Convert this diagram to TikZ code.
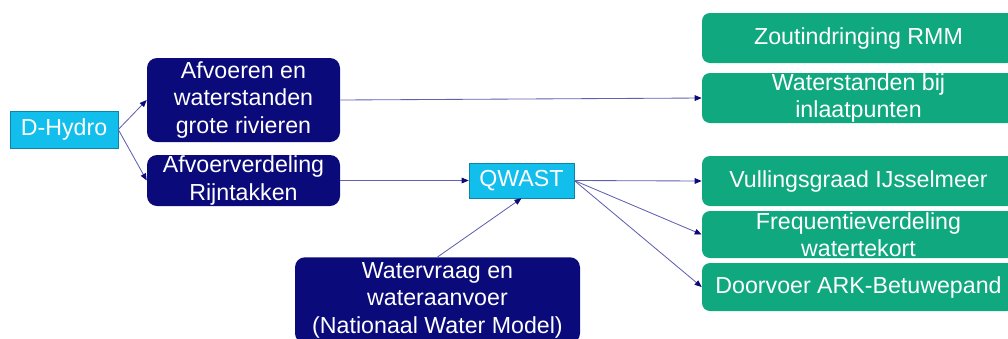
\documentclass[tikz,border=0pt]{standalone}
\usepackage{fontspec}
\setmainfont{Liberation Sans}
\usetikzlibrary{arrows.meta}

\definecolor{navybox}{RGB}{10,10,122}
\definecolor{cyanbox}{RGB}{18,190,236}
\definecolor{greenbox}{RGB}{16,168,126}
\definecolor{linkline}{RGB}{96,96,176}

\tikzset{
    base/.style = {inner sep = 0pt, align = center, text = white,
        font = \fontsize{16.5}{19.6}\selectfont},
    model/.style = {base, rectangle, fill = navybox, rounded corners = .25cm},
    tool/.style = {base, rectangle, fill = cyanbox, draw = cyanbox!70!black, line width = .4pt},
    result/.style = {base, rectangle, fill = greenbox, rounded corners = .2cm,
        minimum width = 7.825cm},
    link/.style = {draw = linkline, line width = .6pt,
        -{Triangle[length = 5pt, width = 4pt, color = navybox]}}
}

\begin{document}
\begin{tikzpicture}
            \useasboundingbox (0,0) rectangle (25.2,-8.45);

            % Draw the sources:
            \node [tool, minimum width = 2.7cm, minimum height = .925cm] (DHydro) at (1.6,-3.2375) {D-Hydro};
            \node [model, minimum width = 4.825cm, minimum height = 2.1cm] (Afvoeren) at (6.0875,-2.5)
                {Afvoeren en\\waterstanden\\grote rivieren};
            \node [model, minimum width = 4.825cm, minimum height = 1.275cm] (Verdeling) at (6.0875,-4.5125)
                {Afvoerverdeling\\Rijntakken};
            \node [tool, minimum width = 2.625cm, minimum height = .875cm] (QWAST) at (13.0375,-4.5125) {QWAST};
            \node [model, anchor = north, minimum width = 7.125cm, minimum height = 2.15cm] (Watervraag) at (10.9375,-6.425)
                {Watervraag en\\wateraanvoer\\(Nationaal Water Model)};

            % Draw the results:
            \node [result, minimum height = 1.25cm] (Zout) at (21.4625,-.95) {Zoutindringing RMM};
            \node [result, minimum height = 1.25cm] (Inlaat) at (21.4625,-2.45) {Waterstanden bij\\inlaatpunten};
            \node [result, minimum height = 1.25cm] (Vulling) at (21.4625,-4.525) {Vullingsgraad IJsselmeer};
            \node [result, minimum height = 1.175cm] (Tekort) at (21.4625,-5.8625) {Frequentieverdeling\\watertekort};
            \node [result, minimum height = 1.2cm] (Doorvoer) at (21.4625,-7.175) {Doorvoer ARK-Betuwepand};

            % Draw the links:
            \draw [link] (DHydro.east) -- (Afvoeren.west);
            \draw [link] (DHydro.east) -- (Verdeling.west);
            \draw [link] (Afvoeren.east) -- (Inlaat.west);
            \draw [link] (Verdeling.east) -- (QWAST.west);
            \draw [link] (Watervraag.north) -- (QWAST.south);
            \foreach \target in {Vulling, Tekort, Doorvoer}
                \draw [link] (QWAST.east) -- (\target.west);
        \end{tikzpicture}
\end{document}
